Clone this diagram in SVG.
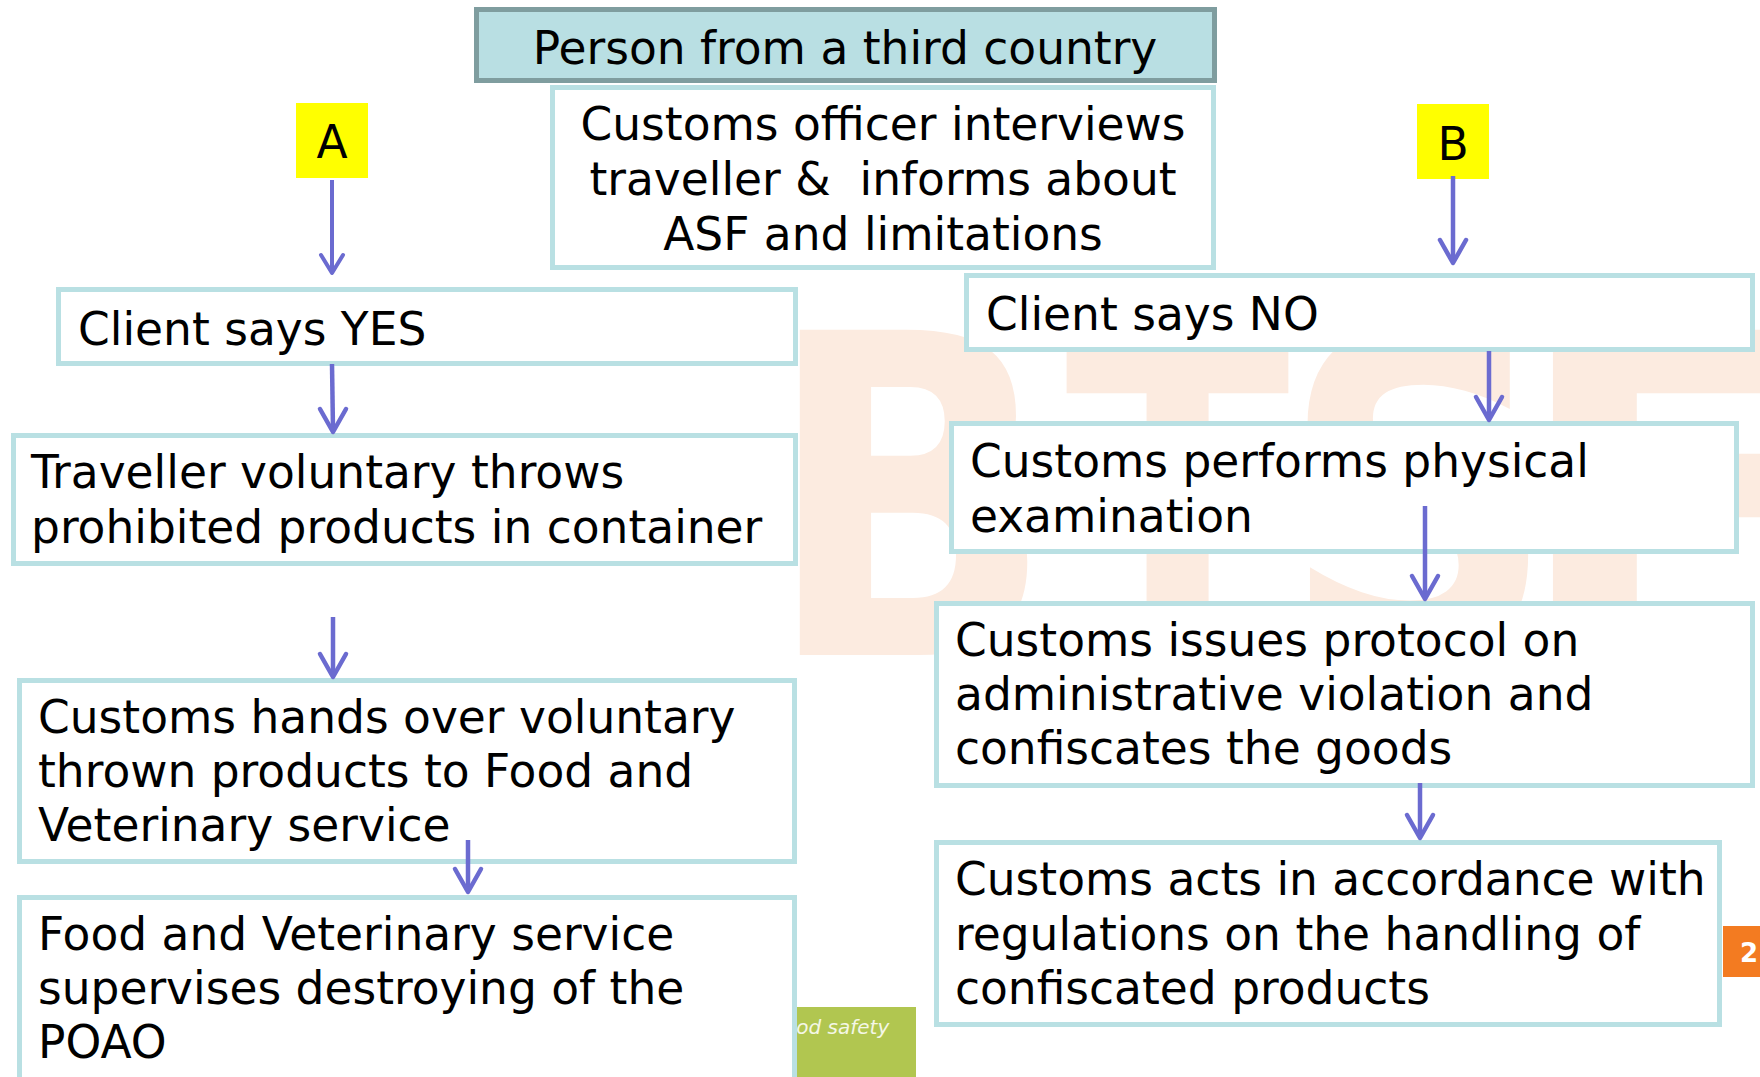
<svg xmlns="http://www.w3.org/2000/svg" width="1760" height="1077" viewBox="0 0 1760 1077">
  <style>
    .t { font-family: "DejaVu Sans", Verdana, sans-serif; font-size: 45.5px; fill: #000; }
    .box { fill: #ffffff; stroke: #b9e0e3; stroke-width: 5; }
    .wm { font-family: "DejaVu Sans", sans-serif; font-weight: bold; font-size: 446px; fill: #fcebe0; }
    .conn line { stroke: #6b6bd0; stroke-width: 4.5; stroke-linecap: butt; }
    .conn path { fill: none; stroke: #6b6bd0; stroke-width: 4.5; stroke-linecap: round; stroke-linejoin: round; }
  </style>
  <rect x="0" y="0" width="1760" height="1077" fill="#ffffff"/>

  <!-- watermark -->
  <g id="watermark">
    <text class="wm" transform="matrix(0.85 0 0 1 765 655)" x="0" y="0">B</text>
    <text class="wm" transform="matrix(0.74 0 0 1 1065 655)" x="0" y="0">T</text>
    <text class="wm" transform="matrix(0.86 0 0 1 1280 655)" x="0" y="0">S</text>
    <text class="wm" transform="matrix(1 0 0 1 1512 655)" x="0" y="0">F</text>
  </g>

  <!-- footer decorations -->
  <g id="footer-green">
    <rect x="797" y="1007" width="119" height="70" fill="#b1c650"/>
    <text x="784" y="1034" font-family="'DejaVu Sans', sans-serif" font-style="italic" font-size="20" fill="#f4f7e6">ood safety</text>
  </g>
  <g id="page-number">
    <rect x="1723" y="926" width="37" height="51" fill="#f37b21"/>
    <text x="1740" y="962" font-family="'DejaVu Sans', sans-serif" font-weight="bold" font-size="26" fill="#ffffff">2</text>
  </g>

  <g id="n-person">
    <rect x="476.5" y="9.5" width="738" height="71" fill="#b9dfe3" stroke="#7f9d9f" stroke-width="5"/>
    <text class="t" x="845" y="64" text-anchor="middle">Person from a third country</text>
  </g>

  <g id="n-officer">
    <rect class="box" x="552.5" y="87.5" width="661" height="180"/>
    <text class="t" text-anchor="middle" xml:space="preserve"><tspan x="883" y="140">Customs officer interviews</tspan><tspan x="883" y="195">traveller &amp;  informs about</tspan><tspan x="883" y="250">ASF and limitations</tspan></text>
  </g>

  <g id="n-A">
    <rect x="296" y="103" width="72" height="75" fill="#ffff00"/>
    <text class="t" x="332" y="158" text-anchor="middle">A</text>
  </g>

  <g id="n-B">
    <rect x="1417" y="104" width="72" height="75" fill="#ffff00"/>
    <text class="t" x="1453" y="160" text-anchor="middle">B</text>
  </g>

  <g id="n-yes">
    <rect class="box" x="58.5" y="289.5" width="737" height="74"/>
    <text class="t" x="78" y="345">Client says YES</text>
  </g>

  <g id="n-no">
    <rect class="box" x="966.5" y="275.5" width="786" height="74"/>
    <text class="t" x="986" y="330">Client says NO</text>
  </g>

  <g id="n-traveller">
    <rect class="box" x="13.5" y="435.5" width="782" height="128"/>
    <text class="t"><tspan x="31" y="488">Traveller voluntary throws</tspan><tspan x="31" y="543">prohibited products in container</tspan></text>
  </g>

  <g id="n-physical">
    <rect class="box" x="951.5" y="423.5" width="785" height="128"/>
    <text class="t"><tspan x="970" y="477">Customs performs physical</tspan><tspan x="970" y="532">examination</tspan></text>
  </g>

  <g id="n-protocol">
    <rect class="box" x="936.5" y="603.5" width="816" height="182"/>
    <text class="t"><tspan x="955" y="656">Customs issues protocol on</tspan><tspan x="955" y="710">administrative violation and</tspan><tspan x="955" y="764">confiscates the goods</tspan></text>
  </g>

  <g id="n-handsover">
    <rect class="box" x="19.5" y="680.5" width="775" height="181"/>
    <text class="t"><tspan x="38" y="733">Customs hands over voluntary</tspan><tspan x="38" y="787">thrown products to Food and</tspan><tspan x="38" y="841">Veterinary service</tspan></text>
  </g>

  <g id="n-food">
    <rect class="box" x="19.5" y="897.5" width="775" height="200"/>
    <text class="t"><tspan x="38" y="950">Food and Veterinary service</tspan><tspan x="38" y="1004">supervises destroying of the</tspan><tspan x="38" y="1058">POAO</tspan></text>
  </g>

  <g id="n-acts">
    <rect class="box" x="936.5" y="842.5" width="783" height="182"/>
    <text class="t"><tspan x="955" y="895">Customs acts in accordance with</tspan><tspan x="955" y="950">regulations on the handling of</tspan><tspan x="955" y="1004">confiscated products</tspan></text>
  </g>

  <g id="connectors" class="conn">
    <line x1="332" y1="180" x2="332" y2="271" style="stroke-width:4"/>
    <path d="M321,255 L332,273 L343,255" style="stroke-width:4"/>

    <line x1="332" y1="364" x2="333" y2="430"/>
    <path d="M320,409 L333,432 L346,409"/>

    <line x1="333" y1="617" x2="333" y2="675"/>
    <path d="M320,654 L333,677 L346,654"/>

    <line x1="468" y1="840" x2="468" y2="890"/>
    <path d="M455,869 L468,892 L481,869"/>

    <line x1="1453" y1="176" x2="1453" y2="261"/>
    <path d="M1440,240 L1453,263 L1466,240"/>

    <line x1="1489" y1="351" x2="1489" y2="418"/>
    <path d="M1476,397 L1489,420 L1502,397"/>

    <line x1="1425" y1="506" x2="1425" y2="597"/>
    <path d="M1412,576 L1425,599 L1438,576"/>

    <line x1="1420" y1="783" x2="1420" y2="836"/>
    <path d="M1407,815 L1420,838 L1433,815"/>
  </g>
</svg>
